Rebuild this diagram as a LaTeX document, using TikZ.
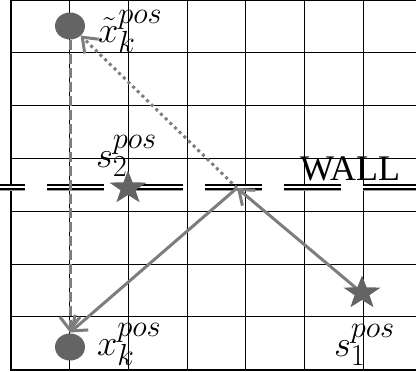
\documentclass[tikz,border=0pt]{standalone}
\usepackage{fontspec}
\newfontfamily\wallfont{Liberation Serif}
\usetikzlibrary{arrows.meta,shapes.geometric}
\DeclareMathSizes{24.88}{24.88}{20.74}{14.4}
\definecolor{arrgray}{RGB}{125,125,125}
\definecolor{objgray}{RGB}{100,100,100}
\tikzset{
  gridline/.style={draw=black, line width=0.9pt},
  border/.style={draw=black, line width=2.2pt},
  wallshade/.style={draw=gray!80, line width=7pt, dash pattern=on 57pt off 22pt},
  wallline/.style={draw=black, double=white, line width=1.8pt, double distance=1.8pt, dash pattern=on 57pt off 22pt},
  dot/.style={ellipse, fill=objgray, minimum width=30pt, minimum height=27pt, inner sep=0pt, outer sep=0pt},
  starmark/.style={star, star points=5, star point ratio=2.5, fill=objgray, minimum size=35pt, inner sep=0pt, outer sep=0pt, xscale=1.12, transform shape},
  conn/.style={draw=arrgray, line width=3pt, -{Straight Barb[length=13pt,width=20pt,line width=3pt]}},
  lbl/.style={anchor=base west, inner sep=0pt, outer sep=0pt, font=\fontsize{24.88}{28}\selectfont, scale=1.47, transform shape},
}
\begin{document}
\begin{tikzpicture}[x=1pt,y=-1pt]
\useasboundingbox (0,0) rectangle (416,372);
\clip (0,0) rectangle (416,372);
% grid
\foreach \i in {1,...,6} {
  \draw[gridline] ({11+\i*58.67},0) -- ({11+\i*58.67},370);
}
\foreach \j in {1,...,6} {
  \draw[gridline] (11,{\j*52.8}) -- (416,{\j*52.8});
}
\draw[border] (11,0) -- (11,370.5);
\draw[border] (10,0.3) -- (416,0.3);
\draw[border] (10,369.6) -- (416,369.6);
% wall
\coordinate (wallA) at (-32,187);
\coordinate (wallB) at (430,187);
\draw[wallshade] (wallA) -- (wallB);
\draw[wallline] (wallA) -- (wallB);
\node[anchor=base west, inner sep=0pt, font=\wallfont\fontsize{36}{40}\selectfont] (wall) at (300,180) {WALL};
% positions
\coordinate (R) at (237,188);
\node[dot] (xt) at (70,26) {};
\node[dot] (xk) at (70,347) {};
% connectors
\draw[conn] (R) -- ([yshift=1pt]xk.north);
\draw[conn, dash pattern=on 10pt off 4pt] (xt.south) -- ([yshift=1pt]xk.north);
\draw[conn, dash pattern=on 3pt off 3.5pt] (R) -- (xt.south east);
\coordinate (s1c) at (362,293);
\draw[conn] (s1c) -- (R);
% stars
\node[starmark] (s2) at (128,188) {};
\node[starmark] (s1) at (s1c) {};
% labels
\node[lbl] (lxt) at (98,42) {$\tilde{x}_k^{pos}$};
\node[lbl] (lxk) at (97,355) {$x_k^{pos}$};
\node[lbl] (ls2) at (96,167) {$s_2^{pos}$};
\node[lbl] (ls1) at (334,356) {$s_1^{pos}$};
\end{tikzpicture}
\end{document}
